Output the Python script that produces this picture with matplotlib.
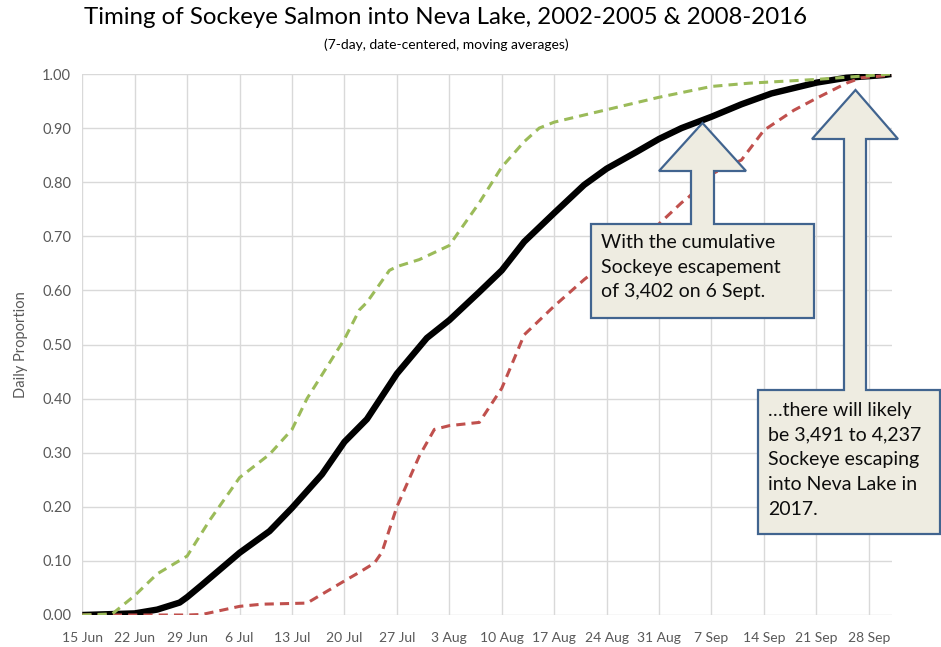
import datetime as dt
import numpy as np
import matplotlib
matplotlib.use("Agg")
from matplotlib import pyplot as plt
from matplotlib.patches import Polygon

# days after 15 June
start = dt.date(2017, 6, 15)

mid_days = [0, 7, 10, 13, 14, 16, 21, 25, 28, 32, 35, 38, 42, 46, 49, 53, 56, 59, 63,
            67, 70, 74, 77, 80, 84, 88, 92, 98, 102, 107, 108]
mid_prop = [0.0, 0.003, 0.01, 0.023, 0.033, 0.056, 0.115, 0.155, 0.198, 0.26, 0.32, 0.362,
            0.446, 0.512, 0.545, 0.597, 0.637, 0.69, 0.743, 0.795, 0.825, 0.856, 0.88, 0.9,
            0.921, 0.944, 0.964, 0.984, 0.993, 0.998, 1.0]

early_days = [0, 4, 7, 10, 14, 17, 21, 25, 28, 30, 35, 37, 38, 41, 42, 45, 49, 50, 53, 56,
              59, 61, 63, 70, 77, 84, 89, 98, 108]
early_prop = [0.0, 0.002, 0.036, 0.076, 0.109, 0.175, 0.254, 0.297, 0.343, 0.40, 0.51, 0.564,
              0.578, 0.637, 0.644, 0.657, 0.683, 0.703, 0.762, 0.828, 0.875, 0.90, 0.911,
              0.934, 0.957, 0.977, 0.983, 0.99, 1.0]

late_days = [0, 14, 16, 21, 24, 30, 35, 37, 39, 40, 42, 45, 47, 49, 53, 56, 59, 63, 67, 70,
             74, 77, 80, 81, 84, 88, 91, 95, 98, 102, 104, 108]
late_prop = [0.0, 0.0, 0.001, 0.016, 0.02, 0.022, 0.063, 0.079, 0.096, 0.116, 0.20, 0.294,
             0.343, 0.35, 0.356, 0.419, 0.518, 0.571, 0.62, 0.653, 0.69, 0.723, 0.762, 0.773,
             0.815, 0.841, 0.896, 0.933, 0.955, 0.983, 0.993, 0.998]

tick_days = np.arange(0, 106, 7)
tick_labels = [f"{(start + dt.timedelta(days=int(d))).day} {(start + dt.timedelta(days=int(d))).strftime('%b')}"
               for d in tick_days]

title = "Timing of Sockeye Salmon into Neva Lake, 2002-2005 & 2008-2016"
subtitle = "(7-day, date-centered, moving averages)"
note1 = "With the cumulative\nSockeye escapement\nof 3,402 on 6 Sept."
note2 = "\u2026there will likely\nbe 3,491 to 4,237\nSockeye escaping\ninto Neva Lake in\n2017."

plt.rcParams['font.family'] = ['Lato', 'DejaVu Sans']

W, H = 941, 647
fig = plt.figure(figsize=(W / 100, H / 100), dpi=100)
ax = fig.add_axes([82.3 / W, 1 - 615 / H, (892 - 82.3) / W, (615 - 74) / H])

ax.plot(mid_days, mid_prop, color='black', lw=4.6, solid_capstyle='butt',
        solid_joinstyle='round', zorder=3)
ax.plot(late_days, late_prop, color='#C0504D', lw=2.2, dashes=(3, 2), zorder=4)
ax.plot(early_days, early_prop, color='#9BBB59', lw=2.2, dashes=(3, 2), zorder=5)

ax.set_xlim(0, 108.1)
ax.set_ylim(0, 1.0)
ax.set_xticks(tick_days)
ax.set_xticklabels(tick_labels)
ax.set_yticks(np.arange(0, 1.01, 0.1))
ax.set_yticklabels([f"{v:.2f}" for v in np.arange(0, 1.01, 0.1)])
ax.grid(True, color='#D9D9D9', lw=1)
ax.set_axisbelow(True)
for s in ax.spines.values():
    s.set_visible(False)
ax.tick_params(length=0, colors='#595959', labelsize=10.5)
ax.tick_params(axis='x', pad=12, labelsize=10)
ax.tick_params(axis='y', pad=8)
ax.set_ylabel("Daily Proportion", color='#595959', fontsize=10.5, labelpad=10)

fig.text(446 / W, 1 - 18 / H, title, ha='center', va='center', fontsize=17.3, color='black')
fig.text(446 / W, 1 - 45 / H, subtitle, ha='center', va='center', fontsize=10, color='black')


def px(pts):
    return [(x / W, 1 - y / H) for x, y in pts]


call1 = [(591, 224), (691, 224), (691, 171), (659, 171), (702.5, 123), (746, 171),
         (714, 171), (714, 224), (814, 224), (814, 318), (591, 318)]
call2 = [(758, 390), (844, 390), (844, 139), (812, 139), (855.5, 90), (898, 139),
         (866, 139), (866, 390), (940, 390), (940, 534), (758, 534)]
for c in (call1, call2):
    fig.add_artist(Polygon(px(c), closed=True, transform=fig.transFigure,
                           facecolor='#EEECE1', edgecolor='#41648F', lw=1.6, zorder=10))

fig.text(601 / W, 1 - 234 / H, note1, ha='left', va='top', fontsize=14,
         linespacing=1.55, color='#0D0D0D', zorder=11)
fig.text(768 / W, 1 - 402 / H, note2, ha='left', va='top', fontsize=14,
         linespacing=1.55, color='#0D0D0D', zorder=11)

fig.savefig("out.png", dpi=100)
